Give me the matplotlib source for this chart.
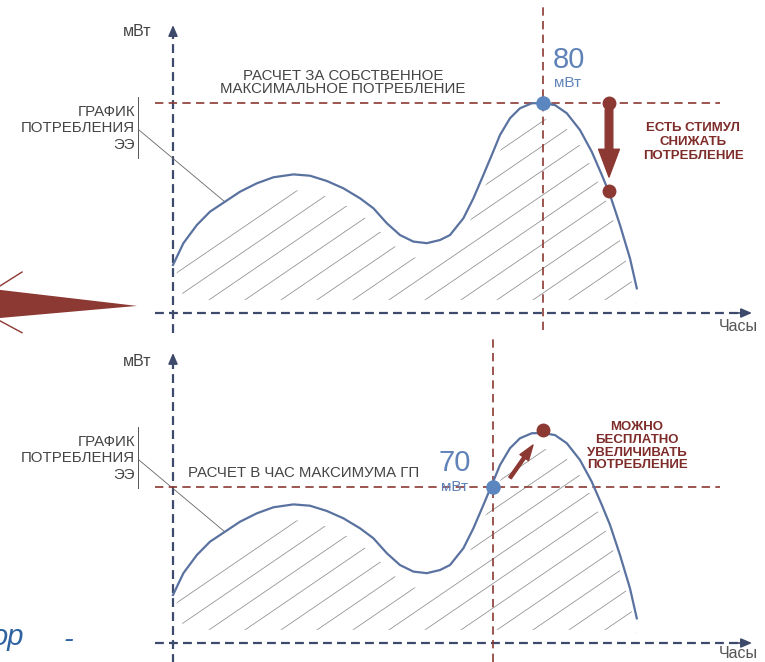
import numpy as np
import matplotlib
matplotlib.use('Agg')
import matplotlib.pyplot as plt
from matplotlib.patches import Polygon

plt.rcParams['font.family'] = ['Liberation Sans', 'DejaVu Sans']

# load curve (hours, mW) - same shape in both panels
hours = [0.0, 0.52, 1.19, 1.85, 2.6, 3.35, 4.19, 5.02, 6.02, 6.85, 7.69, 8.52, 9.35,
         10.02, 10.69, 11.35, 12.02, 12.69, 13.35, 13.85, 14.52, 15.02, 15.52, 15.94,
         16.35, 16.85, 17.35, 17.94, 18.5, 19.1, 19.69, 20.35, 20.94, 21.44, 21.85,
         22.35, 22.85, 23.19]
load = [18.3, 26.6, 33.5, 38.6, 42.4, 46.2, 49.4, 51.7, 52.8, 52.3, 50.3, 47.5, 43.7,
        39.9, 34.2, 29.7, 27.2, 26.6, 27.8, 29.7, 36.1, 43.7, 52.6, 60.2,
        67.8, 74.2, 78.0, 79.9, 80.0, 79.2, 76.1, 69.7, 61.4, 52.6, 45.0,
        33.5, 20.8, 9.4]

# top panel: own maximum
peak_hour = 18.5
peak_level = 80.0
shift_hour = 21.8          # where the load is moved to
shifted_load = 46.5
# bottom panel: system operator (ГП) peak hour
gp_hour = 16.0
gp_level = 59.4
free_peak = (18.5, 81.0)

peak_label = '80'
gp_label = '70'
unit = 'мВт'
xlabel = 'Часы'
curve_label = ['ГРАФИК', 'ПОТРЕБЛЕНИЯ', 'ЭЭ']
top_title = ['РАСЧЕТ ЗА СОБСТВЕННОЕ', 'МАКСИМАЛЬНОЕ ПОТРЕБЛЕНИЕ']
top_note = ['ЕСТЬ СТИМУЛ', 'СНИЖАТЬ', 'ПОТРЕБЛЕНИЕ']
bot_title = 'РАСЧЕТ В ЧАС МАКСИМУМА ГП'
bot_note = ['МОЖНО', 'БЕСПЛАТНО', 'УВЕЛИЧИВАТЬ', 'ПОТРЕБЛЕНИЕ']

NAVY = '#3d4a6c'
CURVE = '#5a72a0'
RED = '#8c3833'
REDTXT = '#7e2c2a'
BLUE = '#5b86c0'
GREY = '#454545'

W, H = 765, 662
PX_H, PX_MW, X0 = 20.0, 2.625, 173.0

fig = plt.figure(figsize=(W / 100, H / 100), dpi=100)


def make_axes(top_px, bot_px, base_px):
    ax = fig.add_axes([0, (H - bot_px) / H, 1, (bot_px - top_px) / H])
    ax.set_xlim(-X0 / PX_H, (W - X0) / PX_H)
    ax.set_ylim((base_px - bot_px) / PX_MW, (base_px - top_px) / PX_MW)
    ax.axis('off')
    return ax


def draw_base(ax, ytop, ylab):
    h = np.array(hours)
    y = np.array(load)
    # axes
    ax.plot([-0.9, 28.4], [0, 0], color=NAVY, lw=1.6, dashes=(4, 2.3), clip_on=False)
    ax.plot([0, 0], [-7.5, ytop - 1], color=NAVY, lw=1.6, dashes=(4, 2.3), clip_on=False)
    ax.annotate('', xy=(28.95, 0), xytext=(28.2, 0),
                arrowprops=dict(arrowstyle='-|>,head_length=0.65,head_width=0.28',
                                color=NAVY, lw=1.2, mutation_scale=10,
                                shrinkA=0, shrinkB=0))
    ax.annotate('', xy=(0, ytop), xytext=(0, ytop - 3),
                arrowprops=dict(arrowstyle='-|>,head_length=0.65,head_width=0.28',
                                color=NAVY, lw=1.2, mutation_scale=10,
                                shrinkA=0, shrinkB=0))
    ax.text(-1.8, 107.4, unit, ha='center', va='center', fontsize=11.5, color=GREY)
    ax.text(28.25, ylab, xlabel, ha='center', va='center', fontsize=11.5, color='#555555')

    # hatching inside the area under the curve
    clip_xy = np.column_stack([h, y - 6.0])
    clip_xy = np.vstack([clip_xy, [[h[-1], 5.0], [0.7, 5.0]]])
    clip = Polygon(clip_xy, closed=True, transform=ax.transData)
    xs = np.array([-2.0, 30.0])
    for b in np.arange(-0.96 - 1.8 * 12, 24, 1.8):
        ln, = ax.plot(xs, 5.2 * (xs - b), color='#8c8c8c', lw=0.55)
        ln.set_clip_path(clip)

    ax.plot(h, y, color=CURVE, lw=1.6, solid_joinstyle='round', zorder=3)

    # curve label with leader
    for txt, yy in zip(curve_label, [76.6, 70.5, 64.0]):
        ax.text(-1.9, yy, txt, ha='right', va='center', fontsize=10.8, color=GREY)
    ax.plot([-1.75, -1.75], [59.0, 82.3], color='#555555', lw=0.7)
    ax.plot([-1.7, 2.6], [69.7, 42.3], color='#666666', lw=0.6)


# ---- top panel ----
ax1 = make_axes(0, 330, 313)
draw_base(ax1, 109.7, -5.0)
ax1.plot([-0.9, 27.35], [peak_level, peak_level], color=RED, lw=1.2, dashes=(5, 3.2))
ax1.plot([peak_hour, peak_hour], [-6.5, 117.3], color=RED, lw=1.2, dashes=(5, 3.2),
         clip_on=False)
ax1.plot(peak_hour, peak_level, 'o', color=BLUE, ms=9.5, zorder=5)
ax1.text(19.8, 96.4, peak_label, ha='center', va='center', fontsize=21, color='#5f82b8')
ax1.text(19.75, 87.6, unit, ha='center', va='center', fontsize=11, color='#5f82b8')
for txt, yy in zip(top_title, [90.3, 85.3]):
    ax1.text(8.5, yy, txt, ha='center', va='center', fontsize=10.8, color=GREY)
ax1.plot(shift_hour, peak_level, 'o', color=RED, ms=9, zorder=5)
ax1.plot(shift_hour, shifted_load, 'o', color=RED, ms=9, zorder=5)
ax1.annotate('', xy=(shift_hour, 51.8), xytext=(shift_hour, 77.5),
             arrowprops=dict(arrowstyle='simple,head_length=2.0,head_width=1.5,tail_width=0.55',
                             color=RED, mutation_scale=10, shrinkA=0, shrinkB=0))
for txt, yy in zip(top_note, [70.5, 65.1, 59.8]):
    ax1.text(26.0, yy, txt, ha='center', va='center', fontsize=9.5,
             fontweight='bold', color=REDTXT)

# cut-off red arrow at the left edge of the slide
ax1.add_patch(Polygon([[-8.65, 8.8], [-1.8, 2.7], [-8.65, -1.9]], closed=True,
                      color=RED, lw=0, clip_on=False))
ax1.plot([-8.65, -7.55], [10.3, 15.6], color=RED, lw=1.0, clip_on=False)
ax1.plot([-8.65, -7.55], [-3.0, -7.5], color=RED, lw=1.0, clip_on=False)

# ---- bottom panel ----
ax2 = make_axes(330, 662, 643)
draw_base(ax2, 110.5, -4.0)
ax2.plot([-0.9, 27.35], [gp_level, gp_level], color=RED, lw=1.2, dashes=(5, 3.2))
ax2.plot([gp_hour, gp_hour], [-7.3, 117.3], color=RED, lw=1.2, dashes=(5, 3.2),
         clip_on=False)
ax2.text(14.1, 68.6, gp_label, ha='center', va='center', fontsize=21, color='#5f82b8')
ax2.text(14.1, 59.4, unit, ha='center', va='center', fontsize=11, color='#5f82b8')
ax2.plot(gp_hour, gp_level, 'o', color=BLUE, ms=9.5, zorder=5)
ax2.text(0.75, 64.8, bot_title, ha='left', va='center', fontsize=10.8, color=GREY)
ax2.plot(*free_peak, 'o', color=RED, ms=9, zorder=5)
ax2.annotate('', xy=(18.0, 75.4), xytext=(16.85, 62.9),
             arrowprops=dict(arrowstyle='simple,head_length=1.1,head_width=0.75,tail_width=0.22',
                             color=RED, mutation_scale=10, shrinkA=0, shrinkB=0))
for txt, yy in zip(bot_note, [82.3, 77.3, 72.4, 67.8]):
    ax2.text(23.2, yy, txt, ha='center', va='center', fontsize=9.5,
             fontweight='bold', color=REDTXT)

# leftover slide text at the bottom-left
ax2.text(-7.45, -0.8, 'ор', ha='right', va='baseline', fontsize=21, style='italic',
         color='#2f62a0', clip_on=False)
ax2.text(-5.25, 1.1, '-', ha='center', va='center', fontsize=21, style='italic',
         color='#2f62a0', clip_on=False)

fig.savefig('out.png', dpi=100)
